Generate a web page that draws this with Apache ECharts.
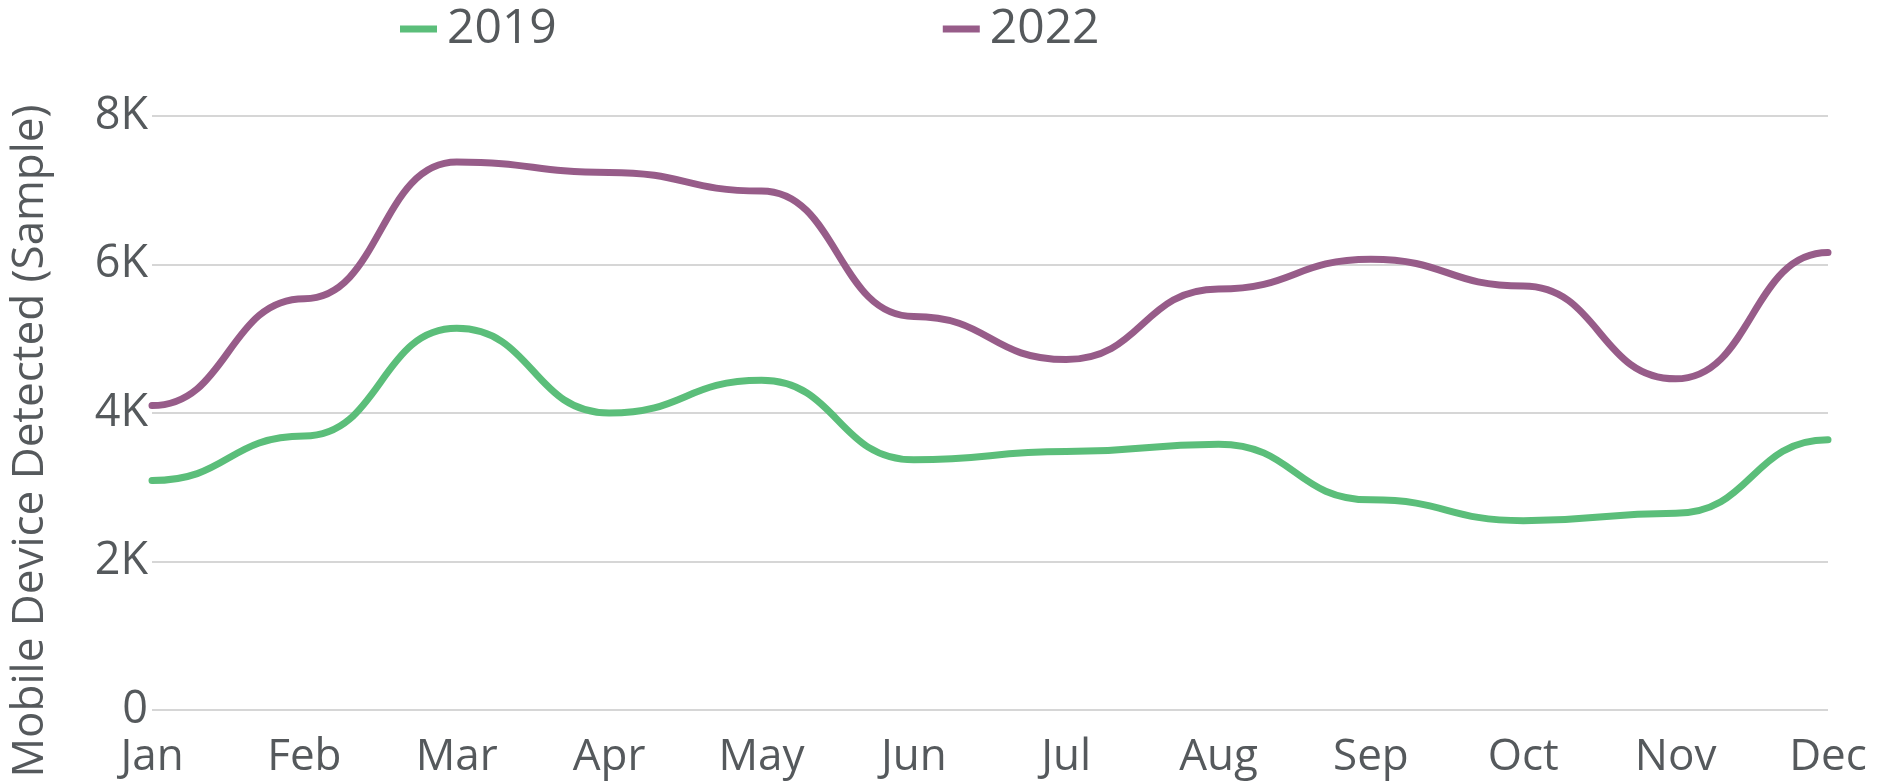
<!DOCTYPE html>
<html>
<head>
<meta charset="utf-8">
<title>Mobile Device Detected</title>
<script src="https://cdn.jsdelivr.net/npm/echarts@6/dist/echarts.min.js"></script>
<style>
  html, body { margin: 0; padding: 0; background: #ffffff; }
  #chart { width: 1892px; height: 783px; }
</style>
</head>
<body>
<div id="chart"></div>
<script>
// Monthly counts of detected mobile devices (sample)
const months = ['Jan', 'Feb', 'Mar', 'Apr', 'May', 'Jun', 'Jul', 'Aug', 'Sep', 'Oct', 'Nov', 'Dec'];
const values2019 = [3090, 3690, 5140, 4000, 4440, 3370, 3480, 3580, 2830, 2550, 2650, 3640];
const values2022 = [4100, 5540, 7380, 7240, 6990, 5300, 4720, 5670, 6070, 5710, 4460, 6160];
const yTicks = [0, 2000, 4000, 6000, 8000];

const textColor = '#55595c';
const fontFamily = '"Open Sans", "Noto Sans", sans-serif';
const green = '#5bbe7a';
const purple = '#975c89';

// Spline through the points with horizontal tangents at every point,
// positioned with the grid's own axis scales (api.coord).
function splineSeries(name, values, color) {
  return {
    name: name,
    type: 'custom',
    data: values.map(function (v, i) { return [i, v]; }),
    encode: { x: 0, y: 1 },
    itemStyle: { color: color },
    renderItem: function (params, api) {
      if (params.dataIndex !== 0) return null;
      const pts = values.map(function (v, i) { return api.coord([i, v]); });
      const s = 0.5;
      let d = 'M' + pts[0][0] + ' ' + pts[0][1];
      for (let i = 1; i < pts.length; i++) {
        const p = pts[i - 1];
        const q = pts[i];
        const dx = (q[0] - p[0]) * s;
        d += ' C' + (p[0] + dx) + ' ' + p[1] + ' ' + (q[0] - dx) + ' ' + q[1] + ' ' + q[0] + ' ' + q[1];
      }
      return {
        type: 'path',
        shape: { pathData: d },
        style: { fill: 'none', stroke: color, lineWidth: 7, lineCap: 'round', lineJoin: 'round' }
      };
    }
  };
}

const chart = echarts.init(document.getElementById('chart'), null, { renderer: 'canvas' });

chart.setOption({
  animation: false,
  backgroundColor: '#ffffff',
  grid: { left: 148, right: 64, top: 116, bottom: 73 },
  legend: {
    left: 400,
    top: 5,
    padding: 0,
    itemGap: 386,
    icon: 'rect',
    itemWidth: 37,
    itemHeight: 7,
    textStyle: { color: textColor, fontFamily: fontFamily, fontSize: 48, padding: [0, 0, 0, 5] },
    data: ['2019', '2022']
  },
  xAxis: {
    type: 'category',
    boundaryGap: false,
    data: months,
    axisLine: { show: false },
    axisTick: { show: false },
    axisLabel: {
      color: textColor,
      fontFamily: fontFamily,
      fontSize: 44,
      margin: 25,
      interval: 0
    }
  },
  yAxis: {
    type: 'value',
    min: yTicks[0],
    max: yTicks[yTicks.length - 1],
    interval: 2000,
    name: 'Mobile Device Detected (Sample)',
    nameLocation: 'middle',
    nameGap: 100,
    nameTextStyle: {
      color: textColor,
      fontFamily: fontFamily,
      fontSize: 44,
      padding: [0, 56, 0, 0]
    },
    axisLine: { show: false },
    axisTick: { show: false },
    axisLabel: {
      color: textColor,
      fontFamily: fontFamily,
      fontSize: 45,
      margin: 4,
      formatter: function (v) { return v === 0 ? '0' : (v / 1000) + 'K'; }
    },
    splitLine: { lineStyle: { color: '#d6d6d6', width: 2 } }
  },
  series: [
    splineSeries('2019', values2019, green),
    splineSeries('2022', values2022, purple)
  ]
});
</script>
</body>
</html>
